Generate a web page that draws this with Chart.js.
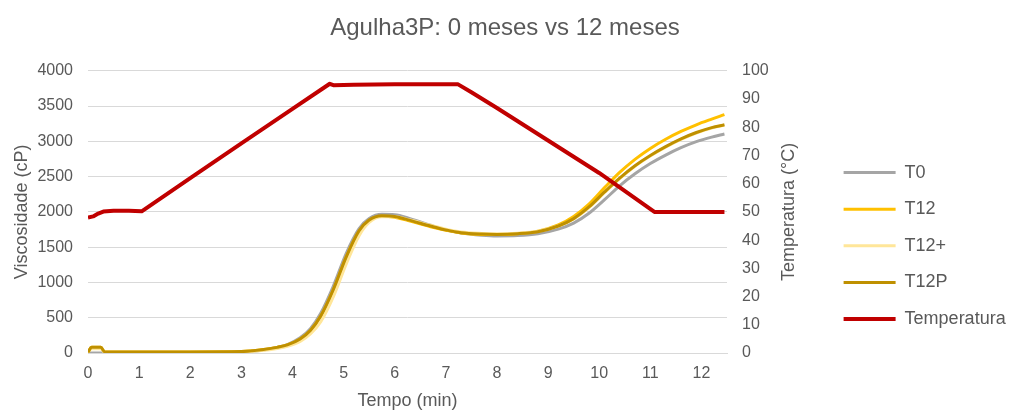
<!DOCTYPE html>
<html lang="pt">
<head>
<meta charset="utf-8">
<title>Agulha3P: 0 meses vs 12 meses</title>
<script src="https://cdn.jsdelivr.net/npm/chart.js@4.4.1/dist/chart.umd.min.js"></script>
<style>
  html, body { margin: 0; padding: 0; background: #fff; }
  #wrap { width: 1010px; height: 412px; }
</style>
</head>
<body>
<div id="wrap"><canvas id="grafico" width="1010" height="412"></canvas></div>
<script>
// Tempo (min) das leituras de viscosidade
const tempos = [0, 0.07, 0.25, 0.33, 1, 2, 3, 3.4, 3.7, 3.9, 4.15, 4.35, 4.55, 4.8, 5.05, 5.3, 5.5, 5.75, 6.0, 6.3, 6.7, 7.0, 7.3, 7.7, 8.0, 8.4, 8.8, 9.2, 9.5, 9.8, 10.1, 10.4, 10.7, 11.0, 11.3, 11.6, 11.9, 12.2, 12.45];

// Viscosidade (cP) de cada amostra
const viscT0 = [0, 0, 0, 5, 5, 8, 15, 40, 80, 120, 215, 345, 560, 950, 1410, 1760, 1905, 1965, 1960, 1905, 1810, 1745, 1700, 1670, 1660, 1665, 1690, 1755, 1840, 1980, 2170, 2370, 2540, 2685, 2805, 2910, 2995, 3060, 3105];
const viscT12 = [10, 80, 80, 15, 15, 15, 20, 45, 80, 115, 200, 320, 520, 900, 1360, 1725, 1880, 1940, 1925, 1870, 1790, 1740, 1700, 1680, 1678, 1690, 1725, 1815, 1935, 2110, 2340, 2560, 2745, 2900, 3030, 3140, 3235, 3315, 3378];
const viscT12mais = [10, 60, 60, 10, 10, 10, 15, 35, 65, 95, 165, 270, 440, 800, 1260, 1660, 1850, 1930, 1930, 1885, 1810, 1755, 1715, 1695, 1690, 1698, 1725, 1800, 1900, 2062, 2272, 2472, 2648, 2793, 2918, 3028, 3118, 3188, 3230];
const viscT12P = [10, 80, 80, 15, 15, 15, 20, 45, 80, 115, 200, 320, 520, 900, 1360, 1730, 1885, 1945, 1935, 1880, 1800, 1745, 1705, 1685, 1680, 1690, 1720, 1800, 1905, 2070, 2280, 2480, 2655, 2800, 2925, 3035, 3125, 3195, 3235];

// Perfil de temperatura (°C)
const temposTemp = [0, 0.1, 0.2, 0.3, 0.5, 0.8, 1.05, 2.0, 3.0, 4.0, 4.73, 4.8, 5.2, 6.0, 7.24, 7.5, 8.0, 9.0, 10.0, 11.08, 12.45];
const temperatura = [48, 48.4, 49.4, 50.1, 50.4, 50.4, 50.2, 62, 74.3, 86.5, 95.4, 94.9, 95.1, 95.2, 95.2, 92.4, 86.8, 75.3, 63.8, 50, 50];

const cinzaTexto = '#595959';
const fonte = '"Liberation Sans", Arial, sans-serif';

Chart.defaults.font.family = fonte;
Chart.defaults.color = cinzaTexto;

function pares(xs, ys) {
    return xs.map((x, i) => ({ x: x, y: ys[i] }));
}

function serie(nome, dados, cor, largura, ordem, eixo, suave) {
    return {
        label: nome,
        data: dados,
        borderColor: cor,
        backgroundColor: cor,
        borderWidth: largura,
        pointRadius: 0,
        cubicInterpolationMode: suave ? 'monotone' : 'default',
        tension: 0,
        borderJoinStyle: 'round',
        fill: false,
        order: ordem,
        yAxisID: eixo
    };
}

// Título do eixo da direita, lido de baixo para cima
const tituloDireita = {
    id: 'tituloDireita',
    afterDraw(chart) {
        const ctx = chart.ctx;
        ctx.save();
        ctx.translate(789, (chart.chartArea.top + chart.chartArea.bottom) / 2);
        ctx.rotate(-Math.PI / 2);
        ctx.font = '18px ' + fonte;
        ctx.fillStyle = cinzaTexto;
        ctx.textAlign = 'center';
        ctx.textBaseline = 'middle';
        ctx.fillText('Temperatura (°C)', 0, 0);
        ctx.restore();
    }
};

const ctx = document.getElementById('grafico').getContext('2d');
const grafico = new Chart(ctx, {
    type: 'line',
    data: {
        datasets: [
            serie('T0', pares(tempos, viscT0), '#A5A5A5', 3, 5, 'y', true),
            serie('T12', pares(tempos, viscT12), '#FFC000', 3, 4, 'y', true),
            serie('T12+', pares(tempos, viscT12mais), '#FFE699', 3, 3, 'y', true),
            serie('T12P', pares(tempos, viscT12P), '#BF9000', 3, 2, 'y', true),
            serie('Temperatura', pares(temposTemp, temperatura), '#C00000', 4, 1, 'y1', false)
        ]
    },
    options: {
        responsive: false,
        animation: false,
        layout: { padding: 0 },
        plugins: {
            title: {
                display: true,
                text: 'Agulha3P: 0 meses vs 12 meses',
                color: cinzaTexto,
                font: { size: 24, weight: 'normal' },
                padding: { top: 14, bottom: 28 }
            },
            legend: {
                position: 'right',
                align: 'start',
                maxWidth: 185,
                title: { display: true, text: '', font: { size: 10 }, padding: { top: 133, bottom: 0 } },
                labels: {
                    usePointStyle: true,
                    pointStyle: 'line',
                    pointStyleWidth: 52,
                    padding: 18.6,
                    color: cinzaTexto,
                    font: { size: 18 },
                    sort: (a, b) => a.datasetIndex - b.datasetIndex
                }
            },
            tooltip: { enabled: false }
        },
        scales: {
            x: {
                type: 'linear',
                min: 0,
                max: 12.5,
                afterFit: (eixo) => { eixo.height = 59; },
                grid: { display: false },
                border: { display: true, color: '#D9D9D9', width: 1 },
                ticks: { stepSize: 1, includeBounds: false, maxRotation: 0, padding: 3, font: { size: 16 }, color: cinzaTexto },
                title: { display: true, text: 'Tempo (min)', font: { size: 18 }, color: cinzaTexto, padding: { top: 0, bottom: 0 } }
            },
            y: {
                position: 'left',
                min: 0,
                max: 4000,
                afterFit: (eixo) => { eixo.width = 88; },
                grid: { color: '#D9D9D9', lineWidth: 1, drawTicks: false },
                border: { display: false },
                ticks: { stepSize: 500, padding: 15, font: { size: 16 }, color: cinzaTexto, callback: (v) => String(v) },
                title: { display: true, text: 'Viscosidade (cP)', font: { size: 18 }, color: cinzaTexto, padding: { top: 11, bottom: 0 } }
            },
            y1: {
                position: 'right',
                min: 0,
                max: 100,
                afterFit: (eixo) => { eixo.width = 98; },
                grid: { display: false, drawTicks: false },
                border: { display: false },
                ticks: { stepSize: 10, padding: 15, font: { size: 16 }, color: cinzaTexto, callback: (v) => String(v) }
            }
        }
    },
    plugins: [tituloDireita]
});
</script>
</body>
</html>
